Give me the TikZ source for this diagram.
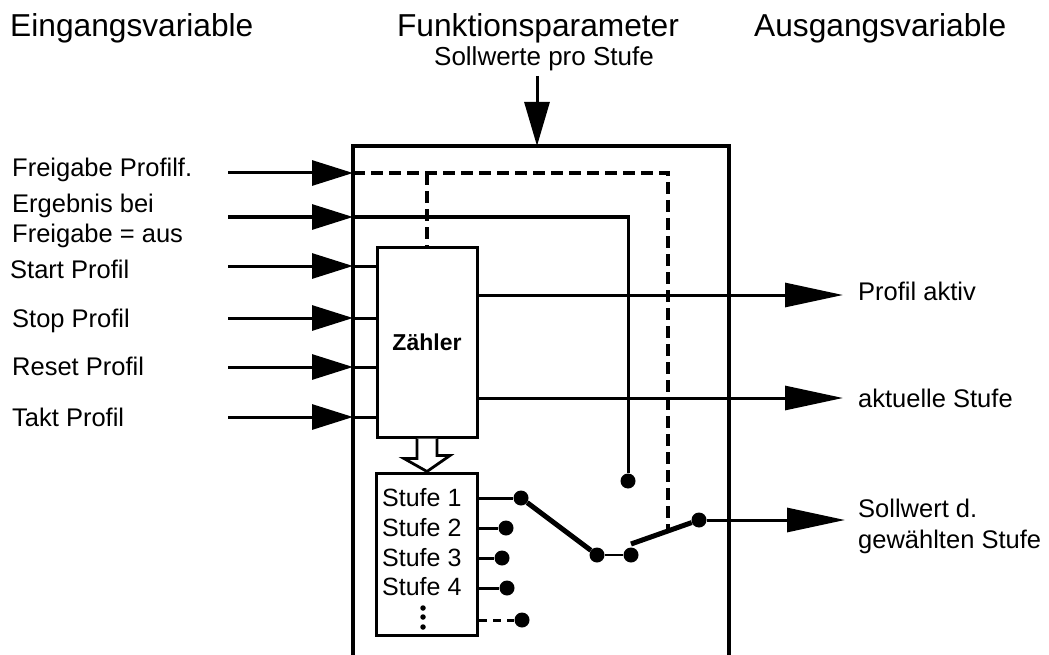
\documentclass[tikz,border=0pt]{standalone}
\usepackage{fontspec}
\setmainfont{Liberation Sans}
\usetikzlibrary{arrows.meta}
\begin{document}
\begin{tikzpicture}[x=1pt,y=-1pt,
  line/.style={line width=3pt},
  inarrow/.style={line, -{Triangle[length=41pt,width=25pt]}},
  outarrow/.style={line, -{Triangle[length=58pt,width=24pt]}},
  toparrow/.style={line, -{Triangle[length=44pt,width=25pt]}},
  lbl/.style={anchor=base west, inner sep=0pt, font=\fontsize{25.5}{29}\selectfont},
  title/.style={anchor=base, inner sep=0pt, font=\fontsize{31.7}{36}\selectfont},
  dashline/.style={line width=4pt, dash pattern=on 12pt off 6pt},
  dot/.style={circle, fill=black, inner sep=0pt, minimum size=15pt},
  smalldot/.style={circle, fill=black, inner sep=0pt, minimum size=5.5pt},
  lever/.style={line width=5pt},
  box/.style={draw, line width=3pt, inner sep=0pt},
]
\useasboundingbox (0,0) rectangle (1049,655);

% titles
\node[title, anchor=base west] (tin) at (10,37) {Eingangsvariable};
\node[title] (tpar) at (538,37) {Funktionsparameter};
\node[title, anchor=base west] (tout) at (754,37) {Ausgangsvariable};
\node[anchor=base, inner sep=0pt, font=\fontsize{26}{30}\selectfont] (soll) at (544,66) {Sollwerte pro Stufe};

% outer box (open at bottom)
\coordinate (obl) at (353,660);
\coordinate (otl) at (353,146);
\coordinate (otr) at (729,146);
\coordinate (obr) at (729,660);
\draw[line width=3.2pt] (obl) -- (otl) -- (otr) -- (obr);

% top parameter arrow
\coordinate (ptop) at (537,76);
\coordinate (pbox) at (537,146);
\draw[toparrow] (ptop) -- (pbox);

% counter block
\node[box, minimum width=100pt, minimum height=190pt, font=\bfseries\fontsize{23}{26}\selectfont] (z) at (427,342) {\raisebox{-3pt}{Zähler}};

% step block
\node[box, minimum width=101pt, minimum height=162pt] (st) at (427,554) {};
\node[lbl, font=\fontsize{25}{29}\selectfont] (s1) at (382,506) {Stufe 1};
\node[lbl, font=\fontsize{25}{29}\selectfont] (s2) at (382,536) {Stufe 2};
\node[lbl, font=\fontsize{25}{29}\selectfont] (s3) at (382,566) {Stufe 3};
\node[lbl, font=\fontsize{25}{29}\selectfont] (s4) at (382,595) {Stufe 4};
\node[smalldot] (v1) at (423,608) {};
\node[smalldot] (v2) at (423,617) {};
\node[smalldot] (v3) at (423,627) {};

% hollow arrow
\draw[line width=2.8pt, fill=white] ([xshift=-10pt]z.south) -- ++(0,20) -- ++(-13,0) -- (st.north) -- ++(23,-16) -- ++(-13,0) -- ([xshift=10pt]z.south);

% inputs
\foreach \y/\n in {173/1,217/2,266/3,318/4,367/5,417/6} {
  \coordinate (a\n) at (228,\y);
  \coordinate (in\n) at (353,\y);
  \draw[inarrow] (a\n) -- (in\n);
}
\foreach \n in {3,4,5,6} { \draw[line] (in\n) -- (in\n -| z.west); }

\node[lbl] (l1) at (12,177) {Freigabe Profilf.};
\node[lbl] (l2) at (12,213) {Ergebnis bei};
\node[lbl] (l2b) at (12,242) {Freigabe = aus};
\node[lbl] (l3) at (10,278) {Start Profil};
\node[lbl] (l4) at (12,327) {Stop Profil};
\node[lbl] (l5) at (12,375) {Reset Profil};
\node[lbl] (l6) at (12,426) {Takt Profil};

% step contacts
\node[dot] (d1) at (521,498) {};
\node[dot] (d2) at (506,528) {};
\node[dot] (d3) at (502,558) {};
\node[dot] (d4) at (507,588) {};
\node[dot] (d5) at (522,620) {};
\draw[line] (d1 -| st.east) -- (d1);
\draw[line] (d2 -| st.east) -- (d2);
\draw[line] (d3 -| st.east) -- (d3);
\draw[line] (d4 -| st.east) -- (d4);
\draw[line, dash pattern=on 8pt off 6pt] (d5 -| st.east) -- (d5);

% switch
\node[dot] (sa) at (597,555) {};
\node[dot] (sb) at (631,555) {};
\node[dot] (sout) at (699,520) {};
\node[dot] (erg) at (628,481) {};
\draw[lever] (d1) -- (sa);
\draw[line, line width=2.6pt] (sa) -- (sb);
\coordinate (lv) at (631,544);
\draw[lever] (lv) -- (sout);

% enable (dashed)
\coordinate (dk) at (668,173);
\coordinate (dl) at (668,531);
\draw[dashline] (in1) -- (dk) -- (dl);
\draw[dashline] (z.north |- in1) -- (z.north);

% result when disabled
\draw[line] (in2) -| (erg);

% outputs
\coordinate (pa) at (843,295);
\coordinate (as) at (843,398);
\coordinate (so) at (845,520);
\draw[outarrow] (pa -| z.east) -- (pa);
\draw[outarrow] (as -| z.east) -- (as);
\draw[outarrow] (sout) -- (so);
\node[lbl] (lpa) at (858,300) {Profil aktiv};
\node[lbl] (las) at (858,407) {aktuelle Stufe};
\node[lbl] (lso) at (858,517) {Sollwert d.};
\node[lbl] (lso2) at (858,548) {gewählten Stufe};
\end{tikzpicture}
\end{document}
